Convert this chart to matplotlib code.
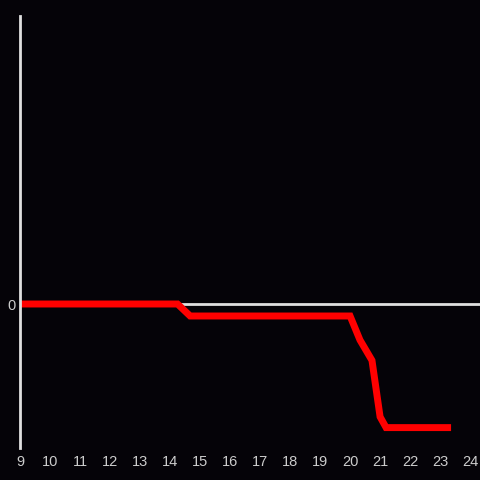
import numpy as np
import matplotlib.pyplot as plt

# data (hours of day vs value)
hours = [9, 10, 11, 12, 13, 14, 14.25, 14.67, 15, 16, 17, 18, 19, 20, 20.33, 20.73, 21.0, 21.2, 22, 23, 23.25]
values = [0, 0, 0, 0, 0, 0, 0, -1, -1, -1, -1, -1, -1, -1, -3, -4.7, -9.4, -10.3, -10.3, -10.3, -10.3]
xticks = list(range(9, 25))

bg = '#050308'
fig = plt.figure(figsize=(4.8, 4.8), dpi=100, facecolor=bg)
ax = fig.add_axes([20/480, 32/480, 460/480, 432/480], facecolor=bg)

ax.axhline(0, color='#e0e0e0', lw=2, zorder=1)
ax.plot(hours, values, color='#ff0000', lw=5, solid_joinstyle='miter', zorder=2)

ax.set_xlim(9, 24.33)
ax.set_ylim(-12, 24)
ax.set_xticks(xticks)
ax.set_xticklabels([str(t) for t in xticks], family='Liberation Sans')
ax.set_yticks([0])
ax.set_yticklabels(['0'], family='Liberation Sans')
ax.tick_params(length=0, colors='#cccccc', labelsize=10.5)
ax.tick_params(axis='x', pad=5)
ax.tick_params(axis='y', pad=3)

for s in ['top', 'right', 'bottom']:
    ax.spines[s].set_visible(False)
ax.spines['left'].set_color('#e0e0e0')
ax.spines['left'].set_linewidth(2)

fig.savefig('out.png', facecolor=bg)
